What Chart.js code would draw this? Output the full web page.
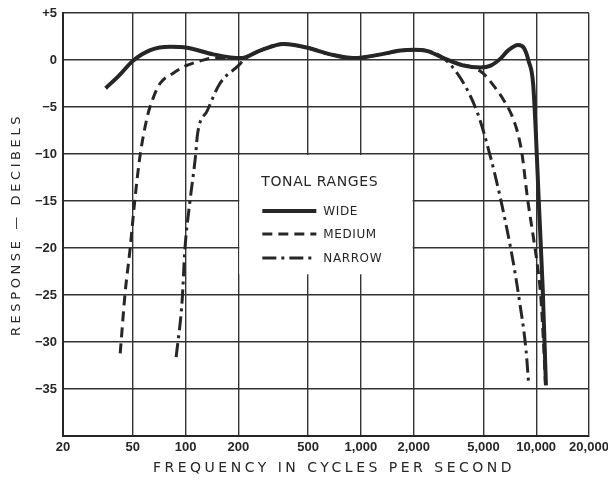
<!DOCTYPE html>
<html>
<head>
<meta charset="utf-8">
<script src="https://cdn.jsdelivr.net/npm/chart.js@4.4.1/dist/chart.umd.min.js"></script>
<style>
  html, body { margin: 0; padding: 0; background: #fff; }
  #chart { display: block; }
</style>
</head>
<body>
<canvas id="chart" width="608" height="481"></canvas>
<script>
// axis ticks
const freqTicks = [20, 50, 100, 200, 500, 1000, 2000, 5000, 10000, 20000];
const dbMin = -40;
const dbMax = 5;

// series (Hz, dB)
const wideFreq = [35, 42, 50, 63, 82, 102, 144, 206, 266, 362, 496, 670, 908, 1300, 1686, 2000, 2400, 2960, 3860, 4820, 5500, 6300, 6900, 7880, 8500, 9050, 9600, 9960, 10340, 10900, 11360];
const wideDb = [-3.0, -1.6, -0.1, 1.05, 1.4, 1.3, 0.6, 0.2, 1.0, 1.7, 1.3, 0.6, 0.2, 0.6, 1.0, 1.1, 0.95, 0.2, -0.6, -0.8, -0.6, 0.2, 1.0, 1.6, 1.3, -0.1, -2.5, -7.9, -15, -24.5, -34.6];

const mediumFreq = [42.4, 45.2, 48.2, 51.3, 55, 60.4, 64.6, 71.5, 85, 97, 121, 144, 206, 266, 362, 496, 670, 908, 1300, 1686, 2000, 2400, 2960, 3600, 4220, 4960, 5700, 6540, 7300, 7880, 8300, 8900, 9750, 10100, 10600, 11000, 11300];
const mediumDb = [-31.2, -24.8, -20.2, -15, -10.2, -6.1, -4.3, -2.5, -1.4, -0.75, -0.1, 0.2, 0.2, 1.0, 1.7, 1.3, 0.6, 0.2, 0.6, 1.0, 1.1, 0.95, 0.2, -0.4, -0.7, -1.4, -2.7, -4.3, -6.0, -7.9, -10, -14.6, -19.5, -21.5, -25, -30, -34.6];

const narrowFreq = [88.4, 95.7, 99, 106, 114, 117, 133, 157, 200, 218, 266, 362, 496, 670, 908, 1300, 1686, 2000, 2400, 2960, 3720, 4640, 5500, 6300, 7360, 7960, 8750, 9050];
const narrowDb = [-31.6, -25.5, -20.3, -15, -10.2, -7.9, -5.4, -2.5, -0.6, 0.1, 1.0, 1.7, 1.3, 0.6, 0.2, 0.6, 1.0, 1.1, 0.95, 0.2, -2, -5.7, -10.4, -15, -21.3, -25.2, -30.9, -34.4];

const ink = "#262626";
const gridInk = "#333333";
const tickFont = { family: "'Liberation Sans', Arial, sans-serif", size: 13, weight: "bold" };
const labelFamily = "'DejaVu Sans', 'Liberation Sans', sans-serif";

const toPoints = (xs, ys) => xs.map((f, i) => ({ x: f, y: ys[i] }));

const lineStyle = {
  borderColor: ink,
  pointRadius: 0,
  fill: false,
  cubicInterpolationMode: "monotone",
  borderCapStyle: "butt",
};

// white legend box sitting in the empty middle of the grid
const tonalLegend = {
  id: "tonalLegend",
  beforeDatasetsDraw(chart) {
    const { ctx, scales } = chart;
    const left = scales.x.getPixelForValue(200) + 1;
    const right = scales.x.getPixelForValue(2000) - 1;
    const top = scales.y.getPixelForValue(-10) + 1;
    const bottom = scales.y.getPixelForValue(-22.8);
    ctx.save();
    ctx.fillStyle = "#fff";
    ctx.fillRect(left, top, right - left, bottom - top);

    ctx.fillStyle = ink;
    ctx.textBaseline = "middle";
    ctx.textAlign = "left";
    ctx.letterSpacing = "0.6px";
    ctx.font = "14px " + labelFamily;
    ctx.fillText("TONAL RANGES", left + 22, top + 27);

    ctx.font = "12px " + labelFamily;
    const rows = [top + 56, top + 79, top + 103];
    chart.data.datasets.forEach((ds, i) => {
      const y = rows[i];
      ctx.strokeStyle = ink;
      ctx.lineWidth = ds.borderWidth;
      ctx.setLineDash(ds.borderDash || []);
      ctx.beginPath();
      ctx.moveTo(left + 23, y);
      ctx.lineTo(left + 77, y);
      ctx.stroke();
      ctx.fillText(ds.label, left + 84, y + 1);
    });
    ctx.restore();
  },
};

// spaced-out axis titles
const axisTitles = {
  id: "axisTitles",
  afterDraw(chart) {
    const { ctx, chartArea } = chart;
    ctx.save();
    ctx.fillStyle = ink;
    ctx.textAlign = "center";
    ctx.textBaseline = "middle";
    ctx.font = "14px " + labelFamily;
    ctx.letterSpacing = "3.5px";
    ctx.fillText("FREQUENCY IN CYCLES PER SECOND", (chartArea.left + chartArea.right) / 2 + 8, 468);
    ctx.font = "13px " + labelFamily;
    ctx.translate(17, (chartArea.top + chartArea.bottom) / 2);
    ctx.rotate(-Math.PI / 2);
    ctx.letterSpacing = "3.6px";
    ctx.fillText("RESPONSE \u2014 DECIBELS", 0, 0);
    ctx.restore();
  },
};

new Chart(document.getElementById("chart"), {
  type: "line",
  data: {
    datasets: [
      { label: "WIDE", data: toPoints(wideFreq, wideDb), borderWidth: 4, ...lineStyle },
      { label: "MEDIUM", data: toPoints(mediumFreq, mediumDb), borderWidth: 3, borderDash: [10, 6], ...lineStyle },
      { label: "NARROW", data: toPoints(narrowFreq, narrowDb), borderWidth: 3, borderDash: [14, 5, 3, 5], ...lineStyle },
    ],
  },
  options: {
    responsive: false,
    animation: false,
    layout: { padding: { top: 13, right: 19, left: 0, bottom: 0 } },
    plugins: {
      legend: { display: false },
      tooltip: { enabled: false },
    },
    scales: {
      x: {
        type: "logarithmic",
        min: 20,
        max: 20000,
        afterBuildTicks: (scale) => {
          scale.ticks = freqTicks.map((v) => ({ value: v }));
        },
        afterFit: (scale) => {
          scale.height = 45;
          scale.paddingLeft = 0;
          scale.paddingRight = 0;
        },
        grid: { color: gridInk, lineWidth: 1.4, drawTicks: false },
        border: { color: ink, width: 2 },
        ticks: {
          color: ink,
          font: tickFont,
          padding: 4,
          maxRotation: 0,
          autoSkip: false,
          callback: (v) => Number(v).toLocaleString("en-US"),
        },
      },
      y: {
        min: dbMin,
        max: dbMax,
        afterFit: (scale) => {
          scale.width = 63;
          scale.paddingTop = 0;
          scale.paddingBottom = 0;
        },
        grid: { color: gridInk, lineWidth: 1.4, drawTicks: false },
        border: { color: ink, width: 2 },
        ticks: {
          stepSize: 5,
          color: ink,
          font: tickFont,
          padding: 6,
          callback: (v) => {
            if (v === dbMin) return "";
            if (v > 0) return "+" + v;
            if (v < 0) return "\u2212" + Math.abs(v);
            return "0";
          },
        },
      },
    },
  },
  plugins: [tonalLegend, axisTitles],
});
</script>
</body>
</html>
